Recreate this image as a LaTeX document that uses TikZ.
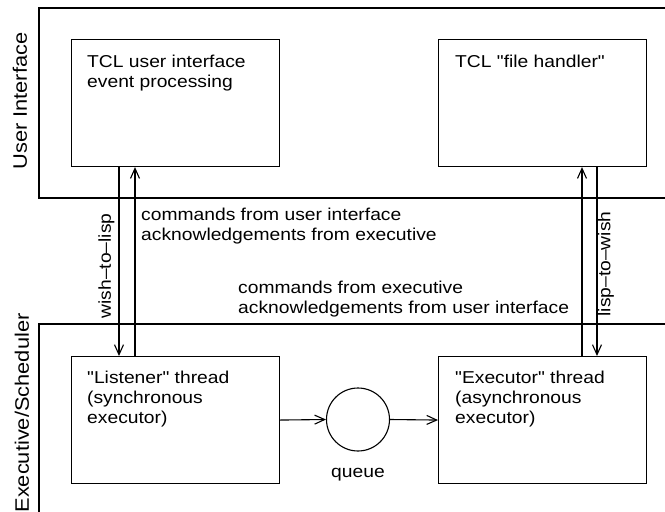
\documentclass[tikz,border=0pt]{standalone}
\usepackage{fontspec}
\setmainfont{Liberation Sans}[FakeStretch=1.12, Ligatures=TeXOff]
\usetikzlibrary{arrows.meta}
\begin{document}
\begin{tikzpicture}[x=1pt,y=-1pt,
  frame/.style={line width=1.1pt},
  box/.style={draw, line width=1.1pt, minimum width=208pt, minimum height=127pt,
    inner sep=0pt, anchor=north west},
  % anchored at the baseline of the last line
  txt/.style={font=\fontsize{17.2}{20}\selectfont, align=left, anchor=base west, inner sep=0pt},
  vtxt/.style={font=\fontsize{17.2}{20}\selectfont, rotate=90, inner sep=0pt},
  side/.style={font=\fontsize{19.5}{22}\selectfont, rotate=90, inner sep=0pt},
  arr/.style={line width=1.1pt, -{Straight Barb[length=10pt,width=9pt]}},
]
\useasboundingbox (0,0) rectangle (665,512);

% the two layers, open towards the right and bottom
\draw[frame] (670,8) -- (39,8) -- (39,198) -- (670,198);
\draw[frame] (670,324) -- (39,324) -- (39,520);

\node[side] (uilabel) at (20,101) {User Interface};
\node[side] (execlabel) at (22,413) {Executive/Scheduler};

% components
\node[box] (tclui) at (71,39) {};
\node[box] (filehandler) at (438,39) {};
\node[box] (listener) at (71,356) {};
\node[box] (executor) at (438,356) {};
\node[draw, circle, line width=1.1pt, minimum size=63pt, inner sep=0pt] (queue) at (358,419.5) {};

\node[txt] (tcluitext) at (87,87) {TCL user interface\\event processing};
\node[txt] (fhtext) at (455,67) {TCL "file handler"};
\node[txt] (listenertext) at (87,423) {"Listener" thread\\(synchronous\\executor)};
\node[txt] (executortext) at (455,423) {"Executor" thread\\(asynchronous\\executor)};
\node[font=\fontsize{17.2}{20}\selectfont, inner sep=0pt] (queuelabel) at (358,475) {queue};

% message descriptions
\node[txt] (uitoexec) at (141,240) {commands from user interface\\acknowledgements from executive};
\node[txt] (exectoui) at (238,313) {commands from executive\\acknowledgements from user interface};
\node[vtxt] (wishtolisp) at (106.5,266) {wish–to–lisp};
\node[vtxt] (lisptowish) at (606,264) {lisp–to–wish};

% channels
\draw[arr] ([xshift=48pt]tclui.south west) -- ([xshift=48pt]listener.north west);
\draw[arr] ([xshift=64pt]listener.north west) -- ([xshift=64pt]tclui.south west);
\draw[arr] ([xshift=144pt]executor.north west) -- ([xshift=144pt]filehandler.south west);
\draw[arr] ([xshift=159pt]filehandler.south west) -- ([xshift=159pt]executor.north west);
\draw[arr] (listener.east) -- (queue.west);
\draw[arr] (queue.east) -- (executor.west);
\end{tikzpicture}
\end{document}
